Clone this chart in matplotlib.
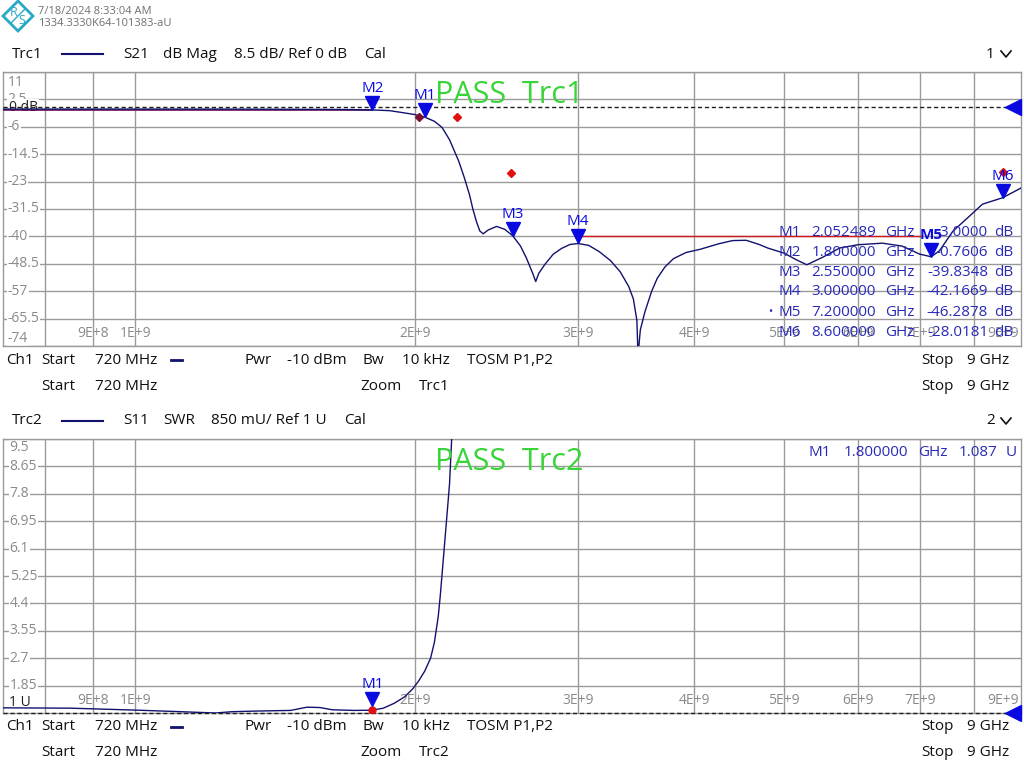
import matplotlib
matplotlib.use('Agg')
import matplotlib.pyplot as plt
from matplotlib.lines import Line2D
from matplotlib.patches import Polygon
from matplotlib import transforms
from matplotlib.ticker import NullLocator

plt.rcParams['font.family'] = ['Open Sans', 'DejaVu Sans']

# ---- data ----
# Trc1: S21 dB Mag (frequency in GHz)
s21_freq = [0.72, 0.9, 1.0, 1.2, 1.4, 1.6, 1.7, 1.8, 1.88, 1.93, 2.0, 2.05,
            2.1, 2.14, 2.18, 2.23, 2.26, 2.29, 2.31, 2.33, 2.35, 2.37, 2.40,
            2.45, 2.50, 2.55, 2.60, 2.64, 2.68, 2.70, 2.72, 2.76, 2.82, 2.88,
            2.94, 3.0, 3.08, 3.16, 3.25, 3.33, 3.40, 3.44, 3.47, 3.48, 3.50,
            3.54, 3.60, 3.65, 3.72, 3.80, 3.92, 4.06, 4.25, 4.40, 4.55, 4.7,
            4.8, 5.0, 5.15, 5.29, 5.5, 5.74, 6.0, 6.38, 6.7, 7.0, 7.2, 7.35,
            7.6, 7.9, 8.18, 8.6, 9.0]
s21_db = [-0.5, -0.5, -0.5, -0.5, -0.55, -0.6, -0.65, -0.76, -1.0, -1.5,
          -2.2, -3.0, -4.3, -6.2, -10.0, -16.6, -21.5, -26.9, -31.5, -35.3,
          -38.3, -39.2, -38.0, -36.9, -37.8, -39.8, -43.0, -46.9, -51.5,
          -54.0, -51.5, -48.8, -45.5, -43.7, -42.5, -42.2, -42.8, -44.7,
          -47.5, -51.0, -55.5, -59.4, -66.0, -77.0, -69.0, -63.4, -57.0,
          -53.0, -49.5, -46.9, -45.0, -44.0, -42.3, -41.3, -41.2, -42.5,
          -43.6, -45.2, -47.2, -48.8, -46.5, -43.6, -42.6, -42.1, -43.0,
          -45.5, -46.3, -44.5, -38.4, -34.0, -30.0, -28.0, -25.0]

# Trc2: S11 SWR
s11_freq = [0.72, 0.85, 1.0, 1.12, 1.22, 1.27, 1.35, 1.47, 1.53, 1.58, 1.63,
            1.72, 1.8, 1.85, 1.9, 1.95, 1.99, 2.02, 2.05, 2.08, 2.1, 2.12,
            2.13, 2.14, 2.15, 2.16, 2.17, 2.18, 2.19, 2.2]
s11_swr = [1.16, 1.15, 1.09, 1.04, 1.0, 1.04, 1.06, 1.08, 1.18, 1.17, 1.1,
           1.08, 1.087, 1.15, 1.3, 1.5, 1.75, 2.0, 2.3, 2.7, 3.2, 4.0,
           4.6, 5.3, 6.0, 6.7, 7.4, 8.1, 9.3, 10.5]

# markers (name, GHz, value)
trc1_markers = [('M1', 2.052489, -3.0000), ('M2', 1.800000, -0.7606),
                ('M3', 2.550000, -39.8348), ('M4', 3.000000, -42.1669),
                ('M5', 7.200000, -46.2878), ('M6', 8.600000, -28.0181)]
trc2_markers = [('M1', 1.800000, 1.087)]

# limit lines / limit points
lim_low_f, lim_low_db = [0.72, 1.8], [-0.7, -0.7]
lim_up_f, lim_up_db = [3.0, 7.0], [-40.0, -40.0]
lim_pts_f = [2.22, 2.54, 8.6]
lim_pts_db = [-3.1, -20.3, -20.0]
lim_dark_f, lim_dark_db = [2.02], [-3.1]

grid_f = [0.8, 0.9, 1, 2, 3, 4, 5, 6, 7, 8]
xlabel_f = [0.9, 1, 2, 3, 4, 5, 6, 7]
xlabels = ['9E+8', '1E+9', '2E+9', '3E+9', '4E+9', '5E+9', '6E+9', '7E+9']
y1_levels = [11, 2.5, -6, -14.5, -23, -31.5, -40, -48.5, -57, -65.5, -74]
y1_labels = ['11', '2.5', '-6', '-14.5', '-23', '-31.5', '-40', '-48.5',
             '-57', '-65.5', '-74']
y2_levels = [9.5, 8.65, 7.8, 6.95, 6.1, 5.25, 4.4, 3.55, 2.7, 1.85]
y2_labels = ['9.5', '8.65', '7.8', '6.95', '6.1', '5.25', '4.4', '3.55',
             '2.7', '1.85']

W, H = 1024, 768
TRACE = '#12126e'
MBLUE = '#0a0ae0'
TBLUE = '#2a2ab8'
GRID = '#9a9a9a'
GREY = '#8a8a8a'


def fx(px):
    return px / W


def fy(py):
    return 1 - py / H


fig = plt.figure(figsize=(W / 100, H / 100), dpi=100)
fig.patch.set_facecolor('white')


def make_axes(top, ylim, levels, labels, lab_x, first_dy, last_dy):
    ax = fig.add_axes([fx(3), fy(top + 274), fx(1018), 274 / H])
    ax.set_xscale('log')
    ax.set_xlim(0.72, 9)
    ax.set_ylim(*ylim)
    ax.set_xticks([])
    ax.set_yticks([])
    ax.xaxis.set_minor_locator(NullLocator())
    ax.yaxis.set_minor_locator(NullLocator())
    for s in ax.spines.values():
        s.set_color(GRID)
        s.set_linewidth(1)
    for f in grid_f:
        ax.axvline(f, color=GRID, lw=1, zorder=1)
    for v in levels:
        ax.axhline(v, color=GRID, lw=1, zorder=1)
    bt = transforms.blended_transform_factory(ax.transAxes, ax.transData)
    n = len(levels)
    for i, (v, t) in enumerate(zip(levels, labels)):
        dy = 0
        if i == 0:
            dy = first_dy
        elif i == n - 1:
            dy = last_dy
        tr = transforms.offset_copy(bt, fig=fig, x=0, y=dy, units='dots')
        ax.text(lab_x, v, t, transform=tr, ha='left', va='center',
                fontsize=10, color=GREY, zorder=2,
                bbox=dict(boxstyle='square,pad=0.05', fc='white', ec='none'))
    tx = transforms.blended_transform_factory(ax.transData, ax.transAxes)
    for f, t in zip(xlabel_f, xlabels):
        ax.text(f, 0.047, t, transform=tx, ha='center', va='center',
                fontsize=10, color=GREY, zorder=2)
    ax.text(0.998, 0.047, '9E+9', transform=ax.transAxes, ha='right',
            va='center', fontsize=10, color=GREY, zorder=2)
    return ax, bt


def draw_marker(ax, name, f, v, label_dy=15.5, bold=False):
    tr = transforms.offset_copy(ax.transData, fig=fig, x=0, y=5,
                                units='points')
    ax.plot([f], [v], marker='v', ms=10, color=MBLUE, mec=MBLUE,
            transform=tr, zorder=6, clip_on=False)
    ax.annotate(name, (f, v), xytext=(0, label_dy), textcoords='offset points',
                ha='center', va='center', fontsize=11, color=MBLUE,
                fontweight='bold' if bold else 'normal', zorder=6)


# ---- Trc1 ----
ax1, bt1 = make_axes(72, (-74, 11), y1_levels, y1_labels, 0.0045, -10, 8)
ax1.text(0.006, 0, '0 dB', transform=bt1, ha='left', va='center',
         fontsize=10, color='#202020', zorder=3,
         bbox=dict(boxstyle='square,pad=0.05', fc='white', ec='none'))
ax1.axhline(0, color='#202020', lw=1, ls=(0, (3, 2)), zorder=4)
ax1.plot(lim_low_f, lim_low_db, color='#6a1050', lw=1.2, zorder=4)
ax1.plot(lim_up_f, lim_up_db, color='#d01818', lw=1, zorder=4)
ax1.plot(s21_freq, s21_db, color=TRACE, lw=1, zorder=5)
ax1.plot(lim_pts_f, lim_pts_db, ls='none', marker='D', ms=4,
         color='#e01010', zorder=6)
ax1.plot(lim_dark_f, lim_dark_db, ls='none', marker='D', ms=4,
         color='#7a1030', zorder=6)
for name, f, v in trc1_markers:
    draw_marker(ax1, name, f, v, bold=(name == 'M5'))
ax1.plot([0.992], [0], marker='<', ms=12, color=MBLUE, transform=bt1,
         clip_on=False, zorder=7)

# ---- Trc2 ----
ax2, bt2 = make_axes(439, (1, 9.5), y2_levels, y2_labels, 0.0065, -9, 0)
ax2.text(0.006, 1, '1 U', transform=transforms.offset_copy(
    bt2, fig=fig, x=0, y=10, units='dots'), ha='left', va='center',
    fontsize=10, color='#202020', zorder=3)
ax2.axhline(1, color='#202020', lw=1, ls=(0, (3, 2)), zorder=4,
            clip_on=False)
ax2.plot(s11_freq, s11_swr, color=TRACE, lw=1, zorder=5)
for name, f, v in trc2_markers:
    ax2.plot([f], [v], marker='o', ms=5, color='#e01010', zorder=5)
    draw_marker(ax2, name, f, v + 0.12)
ax2.plot([0.992], [1], marker='<', ms=12, color=MBLUE, transform=bt2,
         clip_on=False, zorder=7)

# ---- marker tables ----
rows_y = [233, 253, 272, 292, 312, 332]
for (name, f, v), y in zip(trc1_markers, rows_y):
    fig.text(fx(778), fy(y), name, fontsize=11, color=TBLUE, va='center')
    fig.text(fx(876), fy(y), '%.6f' % f, fontsize=11, color=TBLUE,
             va='center', ha='right')
    fig.text(fx(885), fy(y), 'GHz', fontsize=11, color=TBLUE, va='center')
    fig.text(fx(988), fy(y), '%.4f' % v, fontsize=11, color=TBLUE,
             va='center', ha='right')
    fig.text(fx(994), fy(y), 'dB', fontsize=11, color=TBLUE, va='center')
fig.text(fx(768), fy(312), '\u2022', fontsize=8, color=TBLUE, va='center')
for name, f, v in trc2_markers:
    fig.text(fx(809), fy(453), name, fontsize=11, color=TBLUE, va='center')
    fig.text(fx(908), fy(453), '%.6f' % f, fontsize=11, color=TBLUE,
             va='center', ha='right')
    fig.text(fx(918), fy(453), 'GHz', fontsize=11, color=TBLUE, va='center')
    fig.text(fx(997), fy(453), '%.3f' % v, fontsize=11, color=TBLUE,
             va='center', ha='right')
    fig.text(fx(1006), fy(453), 'U', fontsize=11, color=TBLUE, va='center')

# ---- PASS labels ----
fig.text(fx(435), fy(95), 'PASS  Trc1', fontsize=22, color='#38d438',
         va='center', zorder=10)
fig.text(fx(435), fy(462), 'PASS  Trc2', fontsize=22, color='#38d438',
         va='center', zorder=10)


# ---- header and channel info ----
def head(x, y, s, color='#101010', size=11):
    fig.text(fx(x), fy(y), s, fontsize=size, color=color, va='center')


def chevron(x, y):
    fig.add_artist(Line2D([fx(x), fx(x + 5), fx(x + 10)],
                          [fy(y - 3), fy(y + 3), fy(y - 3)],
                          color='#101010', lw=1.2))


for y, trc, sp, fmt, scale, num in [
        (54, 'Trc1', 'S21', 'dB Mag', '8.5 dB/ Ref 0 dB', '1'),
        (421, 'Trc2', 'S11', 'SWR', '850 mU/ Ref 1 U', '2')]:
    head(12, y, trc)
    fig.add_artist(Line2D([fx(62), fx(103)], [fy(y), fy(y)], color=TRACE,
                          lw=1.5))
    head(123, y, sp)
    head(163, y, fmt)
    head(234 if num == '1' else 211, y, scale)
    head(364 if num == '1' else 344, y, 'Cal')
    head(986, y, num)
    chevron(1001, y)

for y0, trc in [(360, 'Trc1'), (727, 'Trc2')]:
    y1 = y0 + 26
    head(6, y0, 'Ch1')
    head(41, y0, 'Start')
    head(95, y0, '720 MHz')
    fig.add_artist(Line2D([fx(171), fx(182)], [fy(y0), fy(y0)], color=TRACE,
                          lw=2))
    head(245, y0, 'Pwr')
    head(287, y0, '-10 dBm')
    head(362, y0, 'Bw')
    head(402, y0, '10 kHz')
    head(467, y0, 'TOSM P1,P2')
    head(921, y0, 'Stop')
    head(967, y0, '9 GHz')
    head(41, y1, 'Start')
    head(95, y1, '720 MHz')
    head(360, y1, 'Zoom')
    head(419, y1, trc)
    head(921, y1, 'Stop')
    head(967, y1, '9 GHz')

# ---- logo and timestamp ----
teal = '#2aa8c8'
fig.add_artist(Polygon([(fx(18), fy(1)), (fx(33), fy(16)), (fx(18), fy(31)),
                        (fx(3), fy(16))], closed=True, fill=False,
                       ec=teal, lw=2))
fig.add_artist(Line2D([fx(11), fx(25)], [fy(23), fy(9)], color=teal, lw=1))
fig.text(fx(14), fy(13), 'R', fontsize=9, color=teal, ha='center',
         va='center')
fig.text(fx(22), fy(20), 'S', fontsize=9, color=teal, ha='center',
         va='center')
head(38, 11, '7/18/2024 8:33:04 AM', color='#707070', size=8)
head(38, 24, '1334.3330K64-101383-aU', color='#707070', size=8)

fig.savefig('out.png', dpi=100)
